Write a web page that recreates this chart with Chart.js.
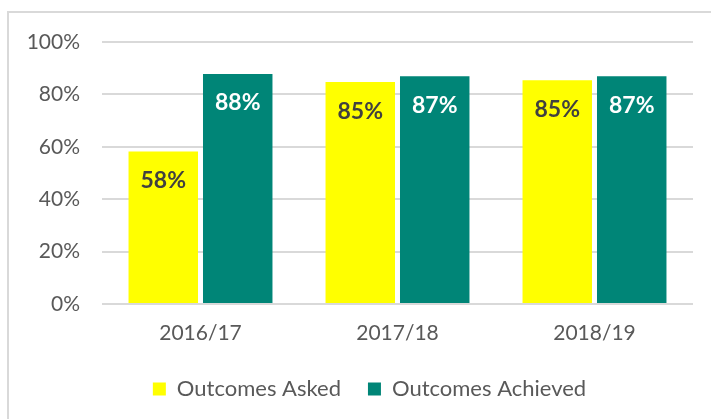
<!DOCTYPE html>
<html>
<head>
<meta charset="utf-8">
<script src="https://cdn.jsdelivr.net/npm/chart.js@4/dist/chart.umd.min.js"></script>
<style>
  html, body { margin: 0; padding: 0; background: #fff; }
  #wrap { position: relative; width: 711px; height: 419px; overflow: hidden; }
  #frame { position: absolute; left: 7px; top: 11px; width: 800px; height: 500px;
           border-top: 2px solid #d9d9d9; border-left: 2px solid #d9d9d9; pointer-events: none; }
  canvas { position: absolute; left: 0; top: 0; }
</style>
</head>
<body>
<div id="wrap">
  <canvas id="chart" width="711" height="419"></canvas>
  <div id="frame"></div>
</div>
<script>
// Donnees
const years = ['2016/17', '2017/18', '2018/19'];
const asked = [58.2, 84.7, 85.4];
const achieved = [87.8, 86.9, 86.9];
const yTicks = [0, 20, 40, 60, 80, 100];

const FONT = 'Lato, Calibri, Carlito, sans-serif';

// Etiquettes dans les barres (pas de plugin datalabels dispo)
const barLabels = {
    id: 'barLabels',
    afterDatasetsDraw(chart) {
        const ctx = chart.ctx;
        ctx.save();
        ctx.font = 'bold 23px ' + FONT;
        ctx.textAlign = 'center';
        ctx.textBaseline = 'middle';
        chart.data.datasets.forEach((ds, i) => {
            const meta = chart.getDatasetMeta(i);
            meta.data.forEach((bar, j) => {
                ctx.fillStyle = ds.labelColor;
                ctx.fillText(Math.round(ds.data[j]) + '%', bar.x, bar.y + 29);
            });
        });
        ctx.restore();
    }
};

// decale la legende un peu vers la droite, comme dans Excel
const legendShift = {
    id: 'legendShift',
    afterLayout(chart) {
        chart.legend.left += 13;
        chart.legend.right += 13;
    }
};

new Chart(document.getElementById('chart').getContext('2d'), {
    type: 'bar',
    data: {
        labels: years,
        datasets: [
            {label: 'Outcomes Asked', data: asked, backgroundColor: '#ffff00', labelColor: '#404040',
             categoryPercentage: 0.756, barPercentage: 0.933},
            {label: 'Outcomes Achieved', data: achieved, backgroundColor: '#008577', labelColor: '#ffffff',
             categoryPercentage: 0.756, barPercentage: 0.933}
        ]
    },
    options: {
        responsive: false,
        animation: false,
        layout: {padding: {left: 20, right: 18, top: 42, bottom: 9}},
        plugins: {
            tooltip: {enabled: false},
            legend: {
                position: 'bottom',
                labels: {
                    boxWidth: 13, boxHeight: 13, padding: 27,
                    color: '#595959',
                    font: {family: FONT, size: 22}
                }
            }
        },
        scales: {
            x: {
                grid: {display: false, drawTicks: false},
                border: {display: false},
                ticks: {color: '#595959', font: {family: FONT, size: 21}, padding: 17},
                afterFit(scale) { scale.height = 47; }
            },
            y: {
                min: 0, max: 100,
                grid: {color: '#d9d9d9', lineWidth: 2, drawTicks: false},
                border: {display: false},
                afterBuildTicks(scale) { scale.ticks = yTicks.map(v => ({value: v})); },
                ticks: {color: '#595959', font: {family: FONT, size: 21}, padding: 22,
                        callback: v => v + '%'},
                afterFit(scale) { scale.width = 82; }
            }
        }
    },
    plugins: [barLabels, legendShift]
});
</script>
</body>
</html>
